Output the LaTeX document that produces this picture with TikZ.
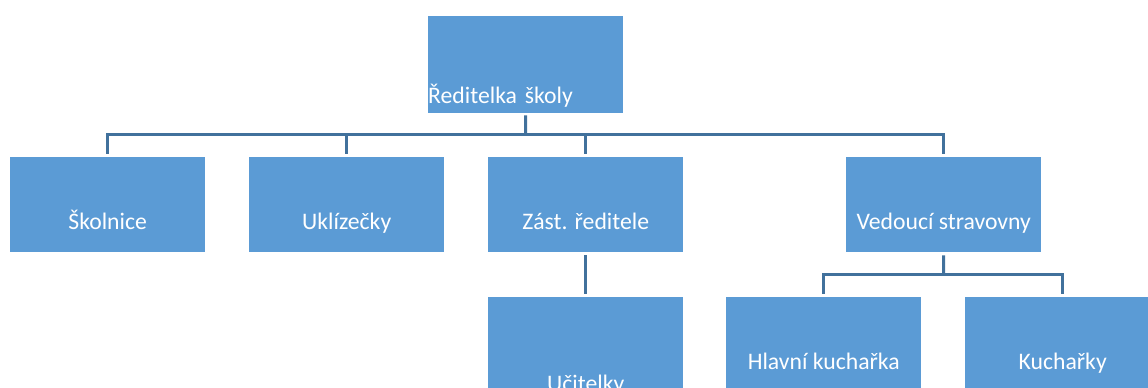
\documentclass[tikz,border=0pt]{standalone}
\usepackage{fontspec}
\setmainfont{Carlito}
\definecolor{boxblue}{HTML}{5B9BD5}
\definecolor{lineblue}{HTML}{41719C}
\begin{document}
\begin{tikzpicture}[x=1pt,y=-1pt,
  box/.style={fill=boxblue, draw=none, rectangle, anchor=north west,
    minimum width=195pt, minimum height=95pt, inner sep=0pt,
    text=white, font=\fontsize{23.7}{28}\selectfont,
    text height=49pt, text depth=0pt},
  conn/.style={draw=lineblue, line width=3pt},
]
\useasboundingbox (0,0) rectangle (1148,388);
\clip (0,0) rectangle (1148,388);
% boxes
\node[box, minimum height=97pt, text width=195pt, align=left, text height=77pt] (top) at (428,16) {Ředitelka školy};
\node[box] (skol) at (10,157) {Školnice};
\node[box] (ukl) at (249,157) {Uklízečky};
\node[box] (zast) at (488,157) {Zást. ředitele};
\node[box] (ved) at (846,157) {Vedoucí stravovny};
\node[box, text height=93pt] (ucit) at (488,297) {Učitelky};
\node[box] (hlav) at (726,297) {Hlavní kuchařka};
\node[box] (kuch) at (965,297) {Kuchařky};
% connectors
\coordinate (bus) at (525.5,134);
\coordinate (bus2) at (943.5,274);
\draw[conn, shorten <=2pt] (top.south) -- (bus);
\draw[conn, shorten >=3pt] (bus) -| (skol.north);
\draw[conn, shorten >=3pt] (bus) -| (ukl.north);
\draw[conn, shorten >=3pt] (bus) -| (zast.north);
\draw[conn, shorten >=3pt] (bus) -| (ved.north);
\draw[conn, shorten <=3pt, shorten >=3pt] (zast.south) -- (ucit.north);
\draw[conn, shorten <=3pt] (ved.south) -- (bus2);
\draw[conn, shorten >=3pt] (bus2) -| (hlav.north);
\draw[conn, shorten >=3pt] (bus2) -| (kuch.north);
\end{tikzpicture}
\end{document}
